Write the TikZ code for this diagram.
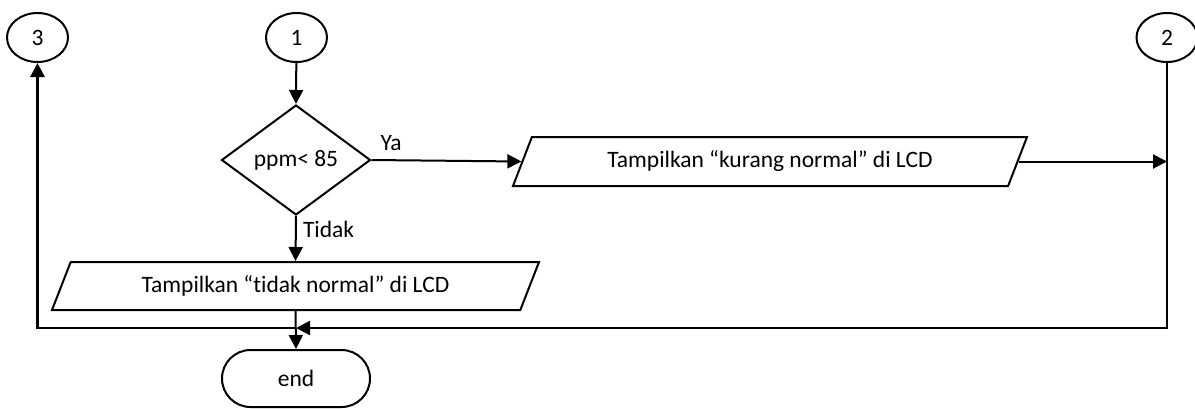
\documentclass[tikz,border=0pt]{standalone}
\usepackage{fontspec}
\setmainfont{Carlito}[Ligatures=NoCommon]
\usetikzlibrary{shapes.geometric,shapes.misc,arrows.meta}
\begin{document}
\begin{tikzpicture}[x=1pt,y=-1pt,
  font=\fontsize{23.5}{28}\selectfont,
  every path/.style={line width=2pt},
  conn/.style={ellipse,draw,minimum width=61pt,minimum height=49pt,inner sep=0pt},
  dec/.style={diamond,draw,minimum width=149pt,minimum height=110pt,inner sep=0pt},
  io/.style={trapezium,draw,trapezium left angle=48,trapezium right angle=132,
     trapezium stretches body=true,minimum height=48pt,inner sep=0pt},
  term/.style={rounded rectangle,draw,minimum width=148pt,minimum height=57pt,inner sep=0pt},
  arr/.style={-{Triangle[length=14pt,width=14pt]}}]
\useasboundingbox (0,0) rectangle (1195,408);
\node[conn] (c3) at (37.5,37.5) {3};
\node[conn] (c1) at (296.5,37.5) {1};
\node[conn] (c2) at (1167,37.5) {2};
\node[dec] (d) at (296,160) {ppm< 85};
\node[io,minimum width=487pt] (p1) at (295.5,286) {Tampilkan “tidak normal” di LCD};
\node[io,minimum width=514pt,minimum height=49pt] (p2) at (770,161.5) {Tampilkan “kurang normal” di LCD};
\node[term] (e) at (296,378.5) {end};
\coordinate (j) at (296,328);
\draw[arr] (c1) -- (d.north);
\draw[arr] (d.south) -- (p1.north);
\node[anchor=north west,inner sep=0pt] (tidak) at ([xshift=6pt,yshift=-4pt]d.south) {Tidak};
\draw[arr] (d.east) -- (p2.west);
\node[anchor=south west,inner sep=0pt] (ya) at ([xshift=8pt,yshift=8pt]d.east) {Ya};
\draw[arr] (p2.east) -- (p2.east -| c2);
\draw[arr] (c2.south) |- (j);
\draw[arr,line width=2.8pt] (j) -| (c3.south);
\draw[arr] (p1.south) -- (e.north);
\end{tikzpicture}
\end{document}
